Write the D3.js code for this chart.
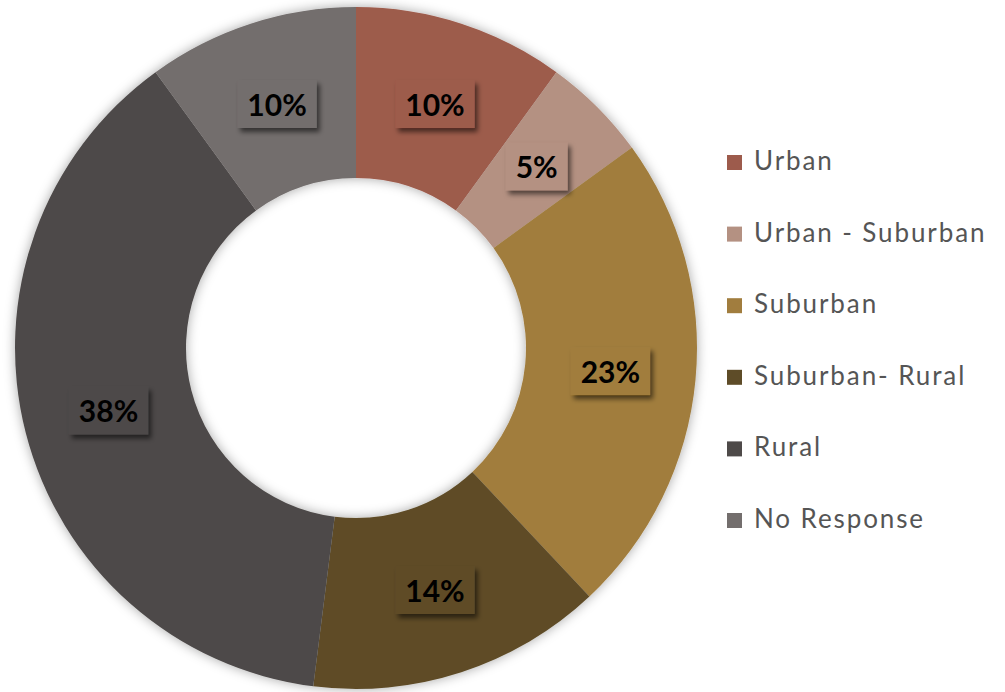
<!DOCTYPE html>
<html>
	<head>
		<meta content="text/html;charset=utf-8" http-equiv="Content-Type">
		<title>Donut Chart</title>
		<script src="https://cdn.jsdelivr.net/npm/d3@7"></script>
		<style>
			body { margin: 0; background: #ffffff; }
		</style>
	</head>
	<body>
		<div id="root"></div>
		<script>
			//chart data
			const categories = ["Urban", "Urban - Suburban", "Suburban", "Suburban- Rural", "Rural", "No Response"];
			const values = [10, 5, 23, 14, 38, 10];
			const colors = ["#9d5b4c", "#b49182", "#a17d3e", "#5e4c28", "#4e4a49", "#736e6d"];

			//dimensions of svg canvas
			const width = 1005;
			const height = 692;
			const cx = 356;
			const cy = 348;
			const outerR = 341;
			const innerR = 170;

			const svg = d3.select("#root")
				.append("svg")
				.attr("width", width)
				.attr("height", height)
				.style("display", "block");

			const defs = svg.append("defs");

			//soft shadow round the ring
			defs.append("filter")
				.attr("id", "ringShadow")
				.attr("x", "-10%").attr("y", "-10%")
				.attr("width", "120%").attr("height", "120%")
				.append("feDropShadow")
				.attr("dx", 0)
				.attr("dy", 0)
				.attr("stdDeviation", 6)
				.attr("flood-color", "#000")
				.attr("flood-opacity", 0.35);

			//shadow behind the label boxes
			defs.append("filter")
				.attr("id", "boxShadow")
				.attr("x", "-20%").attr("y", "-20%")
				.attr("width", "150%").attr("height", "150%")
				.append("feDropShadow")
				.attr("dx", 3)
				.attr("dy", 4)
				.attr("stdDeviation", 2.5)
				.attr("flood-color", "#000")
				.attr("flood-opacity", 0.55);

			const color = d3.scaleOrdinal()
				.domain(categories)
				.range(colors);

			const pie = d3.pie()
				.value((d, i) => values[i])
				.sort(null);

			const arc = d3.arc()
				.innerRadius(innerR)
				.outerRadius(outerR);

			const arcs = pie(categories);

			const g = svg.append("g")
				.attr("transform", "translate(" + cx + "," + cy + ")");

			//slices
			g.append("g")
				.attr("filter", "url(#ringShadow)")
				.selectAll("path")
				.data(arcs)
				.enter()
				.append("path")
				.attr("d", arc)
				.attr("fill", d => color(d.data));

			//labels with shadowed box in slice colour
			const labels = g.selectAll(".lbl")
				.data(arcs)
				.enter()
				.append("g")
				.attr("class", "lbl")
				.attr("transform", d => "translate(" + arc.centroid(d) + ")");

			labels.append("text")
				.attr("text-anchor", "middle")
				.attr("dy", "0.36em")
				.style("font-family", "Lato, 'Open Sans', sans-serif")
				.style("font-weight", "bold")
				.style("font-size", "30px")
				.attr("fill", "#000")
				.text(d => values[d.index] + "%");

			labels.each(function(d) {
				const grp = d3.select(this);
				const bb = grp.select("text").node().getBBox();
				grp.insert("rect", "text")
					.attr("x", bb.x - 10)
					.attr("y", -25)
					.attr("width", bb.width + 20)
					.attr("height", 48)
					.attr("fill", color(d.data))
					.attr("filter", "url(#boxShadow)");
			});

			//legend
			const legend = svg.append("g")
				.selectAll("g")
				.data(categories)
				.enter()
				.append("g")
				.attr("transform", (d, i) => "translate(727," + (170 + i * 71.6) + ")");

			legend.append("rect")
				.attr("x", 0)
				.attr("y", -15)
				.attr("width", 15)
				.attr("height", 15)
				.attr("fill", d => color(d));

			legend.append("text")
				.attr("x", 27)
				.attr("y", 0)
				.style("font-family", "Lato, 'Open Sans', sans-serif")
				.style("font-size", "26px")
				.style("letter-spacing", "1.9px")
				.attr("fill", "#555555")
				.text(d => d);
		</script>
	</body>
</html>
